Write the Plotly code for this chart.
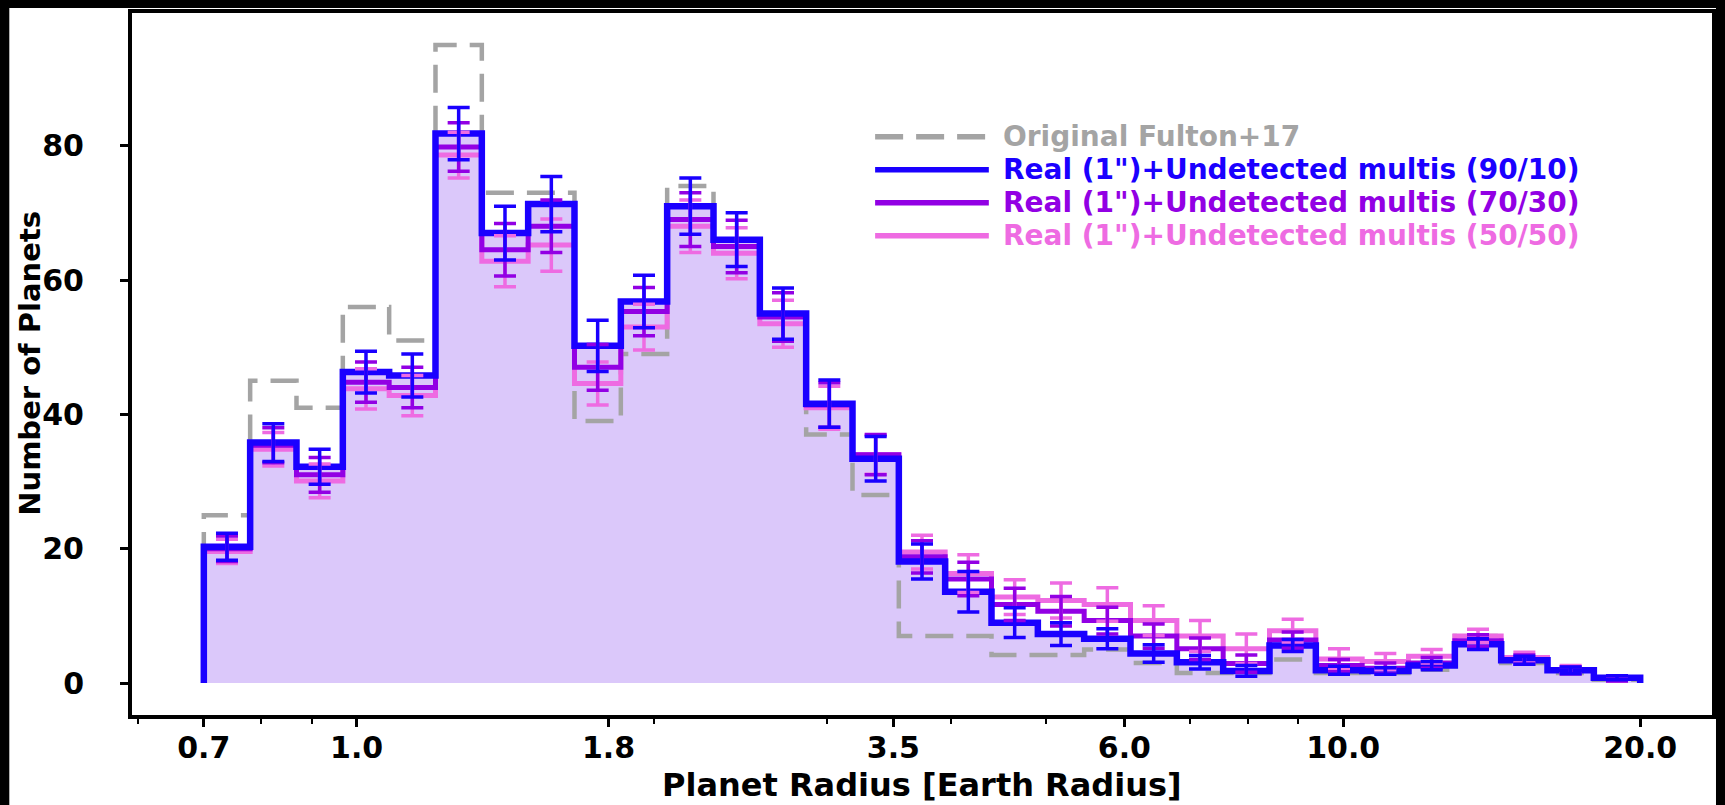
import numpy as np
import plotly.graph_objects as go

# ---- data -------------------------------------------------------------
# 31 log-spaced radius bins between 0.7 and 20 Earth radii
bin_edges = list(np.logspace(np.log10(0.7), np.log10(20.0), 32))

fulton17 = [25, 45, 41, 56, 51, 95, 73, 73, 39, 49, 74, 66, 55, 37, 28,
            7, 7, 4.2, 4.2, 5, 3, 1.5, 1.5, 3.5, 1.5, 1.5, 2, 7, 3, 1.5, 0.5]

multis_90_10 = [20.3, 35.8, 32.2, 46.3, 45.8, 81.8, 67.0, 71.3, 50.2, 56.8,
                71.0, 66.0, 55.0, 41.6, 33.4, 18.1, 13.6, 9.0, 7.3, 6.6,
                4.4, 3.1, 1.8, 5.6, 1.9, 1.8, 2.6, 5.8, 3.4, 1.9, 0.8]
err_90_10 = [2.0, 2.8, 2.6, 3.1, 3.2, 3.9, 4.0, 4.1, 3.8, 3.9, 4.2, 4.0, 3.8,
             3.5, 3.3, 2.6, 3.0, 2.2, 1.7, 1.5, 1.3, 1.0, 0.8, 0.9, 0.6, 0.5,
             0.6, 0.8, 0.6, 0.5, 0.3]

multis_70_30 = [20.0, 35.4, 31.0, 44.8, 44.0, 79.8, 64.5, 68.0, 47.0, 55.3,
                69.0, 65.0, 54.5, 41.4, 34.0, 18.8, 15.5, 11.7, 10.7, 9.3,
                7.0, 5.1, 2.9, 6.4, 2.6, 2.2, 3.0, 6.3, 3.5, 1.9, 0.7]
err_70_30 = [1.9, 2.6, 2.6, 3.0, 3.0, 3.6, 3.9, 3.9, 3.4, 3.6, 4.0, 3.9, 3.6,
             3.3, 3.0, 2.4, 2.5, 2.4, 2.2, 2.0, 1.8, 1.6, 1.3, 1.2, 0.9, 0.8,
             0.8, 0.9, 0.7, 0.5, 0.4]

multis_50_50 = [19.6, 34.8, 30.1, 43.8, 42.8, 78.6, 62.8, 65.2, 44.6, 53.0,
                68.0, 64.0, 53.5, 41.0, 34.0, 19.5, 16.3, 12.8, 12.3, 11.7,
                9.3, 7.0, 5.1, 7.8, 3.6, 3.2, 4.0, 7.0, 3.8, 2.0, 0.7]
err_50_50 = [1.8, 2.5, 2.5, 3.0, 3.0, 3.4, 3.8, 3.9, 3.2, 3.4, 3.9, 3.8, 3.5,
             3.2, 2.9, 2.5, 2.8, 2.6, 2.6, 2.5, 2.2, 2.3, 2.2, 1.7, 1.5, 1.2,
             1.0, 1.0, 0.8, 0.6, 0.4]

major_ticks = [0.7, 1.0, 1.8, 3.5, 6.0, 10.0, 20.0]
major_labels = ["0.7", "1.0", "1.8", "3.5", "6.0", "10.0", "20.0"]
minor_ticks = [0.6, 0.8, 0.9, 2, 3, 4, 5, 7, 8, 9]
y_ticks = [0, 20, 40, 60, 80]

legend_labels = ["Original Fulton+17",
                 "Real (1\")+Undetected multis (90/10)",
                 "Real (1\")+Undetected multis (70/30)",
                 "Real (1\")+Undetected multis (50/50)"]

# ---- styling ----------------------------------------------------------
C_GRAY = "#a4a4a4"
C_BLUE = "#1a00ff"
C_PURPLE = "#9200e4"
C_PINK = "#ee6be2"
C_FILL = "#dbc8fa"
FONT = "DejaVu Sans"

W, H = 1725, 805
L, R, T, B = 132, 1716, 12, 715   # plot-area box in pixels


def step_xy(values):
    """Outline of a step histogram that starts and ends on zero."""
    xs = [bin_edges[0]] + bin_edges + [bin_edges[-1]]
    ys = [0] + list(values) + [values[-1], 0]
    return xs, ys


centers = [np.sqrt(bin_edges[i] * bin_edges[i + 1]) for i in range(len(bin_edges) - 1)]

fig = go.Figure()

# lavender filled histogram underneath everything
fx, fy = step_xy(multis_90_10)
fig.add_trace(go.Scatter(x=fx, y=fy, mode="lines", line=dict(width=0, shape="hv"),
                         fill="tozeroy", fillcolor=C_FILL, showlegend=False,
                         hoverinfo="skip"))

# original histogram, dashed
gx, gy = step_xy(fulton17)
fig.add_trace(go.Scatter(x=gx, y=gy, mode="lines", showlegend=False,
                         line=dict(color=C_GRAY, width=4.5, shape="hv",
                                   dash="28px,13px")))

for vals, col, lw in [(multis_50_50, C_PINK, 5),
                      (multis_70_30, C_PURPLE, 5),
                      (multis_90_10, C_BLUE, 6.5)]:
    sx, sy = step_xy(vals)
    fig.add_trace(go.Scatter(x=sx, y=sy, mode="lines", showlegend=False,
                             line=dict(color=col, width=lw, shape="hv")))

for vals, errs, col in [(multis_50_50, err_50_50, C_PINK),
                        (multis_70_30, err_70_30, C_PURPLE),
                        (multis_90_10, err_90_10, C_BLUE)]:
    fig.add_trace(go.Scatter(x=centers, y=vals, mode="markers", showlegend=False,
                             marker=dict(size=1, color=col, opacity=0),
                             error_y=dict(type="data", array=errs, visible=True,
                                          color=col, thickness=3.5, width=11)))

pw, ph = R - L, B - T


def px_x(p):
    return (p - L) / pw


def px_y(p):
    return (B - p) / ph


shapes = [
    # white figure area inside a black frame
    dict(type="rect", xref="paper", yref="paper", layer="below",
         x0=px_x(9), x1=px_x(1720), y0=px_y(W), y1=px_y(7),
         fillcolor="white", line=dict(width=0)),
]

# hand-drawn legend
legend_rows = [136, 169, 202, 235]
legend_styles = [(C_GRAY, "28px,13px"), (C_BLUE, "solid"),
                 (C_PURPLE, "solid"), (C_PINK, "solid")]
annotations = []
for label, row, (col, dash) in zip(legend_labels, legend_rows, legend_styles):
    shapes.append(dict(type="line", xref="paper", yref="paper",
                       x0=px_x(877), x1=px_x(991), y0=px_y(row), y1=px_y(row),
                       line=dict(color=col, width=5.5, dash=dash)))
    annotations.append(dict(xref="paper", yref="paper", x=px_x(1003), y=px_y(row),
                            xanchor="left", yanchor="middle", showarrow=False,
                            text=label,
                            font=dict(family=FONT, size=28, color=col, weight="bold")))

# axis titles
annotations.append(dict(xref="paper", yref="paper", x=0.5, y=px_y(806),
                        xanchor="center", yanchor="bottom", showarrow=False,
                        text="Planet Radius [Earth Radius]",
                        font=dict(family=FONT, size=32, color="black", weight="bold")))
annotations.append(dict(xref="paper", yref="paper", x=px_x(29), y=px_y(363),
                        xanchor="center", yanchor="middle", showarrow=False,
                        textangle=-90, text="Number of Planets",
                        font=dict(family=FONT, size=29, color="black", weight="bold")))

fig.update_layout(
    width=W, height=H,
    margin=dict(l=L, r=W - R, t=T, b=H - B, pad=0),
    paper_bgcolor="black",
    plot_bgcolor="white",
    showlegend=False,
    shapes=shapes,
    annotations=annotations,
)

lo = np.log10(bin_edges[0])
hi = np.log10(bin_edges[-1])
pad = 0.05 * (hi - lo)

fig.update_xaxes(
    type="log", range=[lo - pad, hi + pad],
    tickmode="array", tickvals=major_ticks, ticktext=major_labels,
    ticks="outside", ticklen=8, tickwidth=2.5, tickcolor="black",
    showgrid=False, zeroline=False,
    showline=True, linecolor="black", linewidth=4, mirror=True,
    ticklabelstandoff=-5,
    tickfont=dict(family=FONT, size=30, color="black", weight="bold"),
    minor=dict(tickmode="array", tickvals=minor_ticks, ticks="outside",
               ticklen=5, tickwidth=1.5, tickcolor="black", showgrid=False),
)
fig.update_yaxes(
    range=[-4.75, 99.75],
    tickmode="array", tickvals=y_ticks,
    ticks="outside", ticklen=8, tickwidth=2.5, tickcolor="black",
    showgrid=False, zeroline=False,
    showline=True, linecolor="black", linewidth=4, mirror=True,
    ticklabelstandoff=30,
    tickfont=dict(family=FONT, size=30, color="black", weight="bold"),
)

fig.write_html("out.html")
